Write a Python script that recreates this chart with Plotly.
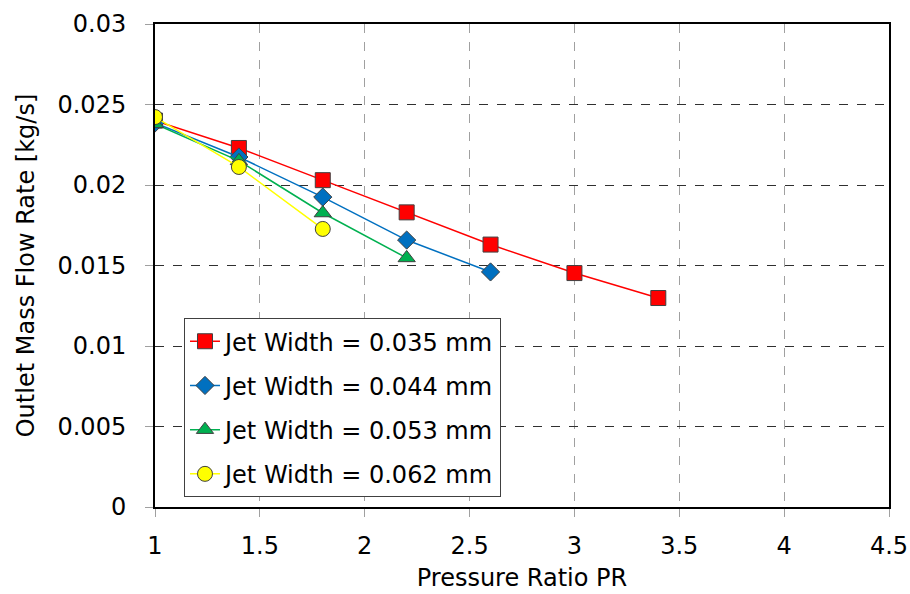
import plotly.graph_objects as go

pr_035 = [1.0, 1.4, 1.8, 2.2, 2.6, 3.0, 3.4]
flow_035 = [0.0240, 0.0223, 0.0203, 0.0183, 0.0163, 0.01453, 0.01298]

pr_044 = [1.0, 1.4, 1.8, 2.2, 2.6]
flow_044 = [0.02385, 0.02174, 0.01925, 0.01658, 0.0146]

pr_053 = [1.0, 1.4, 1.8, 2.2]
flow_053 = [0.0238, 0.0215, 0.01826, 0.01547]

pr_062 = [1.0, 1.4, 1.8]
flow_062 = [0.02422, 0.02112, 0.01727]

series = [
    ("Jet Width = 0.035 mm", pr_035, flow_035, "#FF0000", "square", 15),
    ("Jet Width = 0.044 mm", pr_044, flow_044, "#0070C0", "diamond", 14),
    ("Jet Width = 0.053 mm", pr_053, flow_053, "#00B050", "triangle-up", 15),
    ("Jet Width = 0.062 mm", pr_062, flow_062, "#FFFF00", "circle", 15),
]

fig = go.Figure()
for name, x, y, color, symbol, size in series:
    fig.add_trace(go.Scatter(
        x=x, y=y, name=name, mode="lines+markers", legendgroup=name,
        line=dict(color=color, width=1.5),
        marker=dict(symbol=symbol, size=size, color=color,
                    line=dict(color="#404040", width=1)),
    ))

font = "DejaVu Sans, sans-serif"
fig.update_layout(
    width=910, height=594,
    margin=dict(l=155, r=21, t=24, b=87),
    plot_bgcolor="white", paper_bgcolor="white",
    font=dict(family=font, size=24, color="black"),
    showlegend=True,
    legend=dict(
        x=0.0395, y=0.391, xanchor="left", yanchor="top",
        bgcolor="white", bordercolor="#404040", borderwidth=1,
        font=dict(size=24),
        tracegroupgap=10,
    ),
)
fig.update_xaxes(
    range=[1, 4.5], dtick=0.5, tickformat="~g", automargin=False,
    showline=True, linecolor="black", linewidth=2, mirror=True,
    showgrid=True, gridcolor="#A0A0A0", griddash="dash", gridwidth=1,
    ticks="outside", ticklen=8, tickcolor="#A0A0A0",
    tickfont=dict(size=24), ticklabelstandoff=8,
    title=dict(text="Pressure Ratio PR", font=dict(size=24), standoff=10),
    zeroline=False,
)
fig.update_yaxes(
    range=[0, 0.03], dtick=0.005, tickformat="~g", automargin=False,
    showline=True, linecolor="black", linewidth=2, mirror=True,
    showgrid=True, gridcolor="#303030", griddash="dash", gridwidth=1,
    ticks="outside", ticklen=8, tickcolor="#A0A0A0",
    tickfont=dict(size=24), ticklabelstandoff=14,
    title=dict(text="Outlet Mass Flow Rate [kg/s]", font=dict(size=24), standoff=16),
    zeroline=False,
)

# drop the default 8px body margin so the figure fills the window
fig.write_html(
    "out.html",
    config={"displayModeBar": False},
    post_script="document.body.style.margin = '0';",
)
